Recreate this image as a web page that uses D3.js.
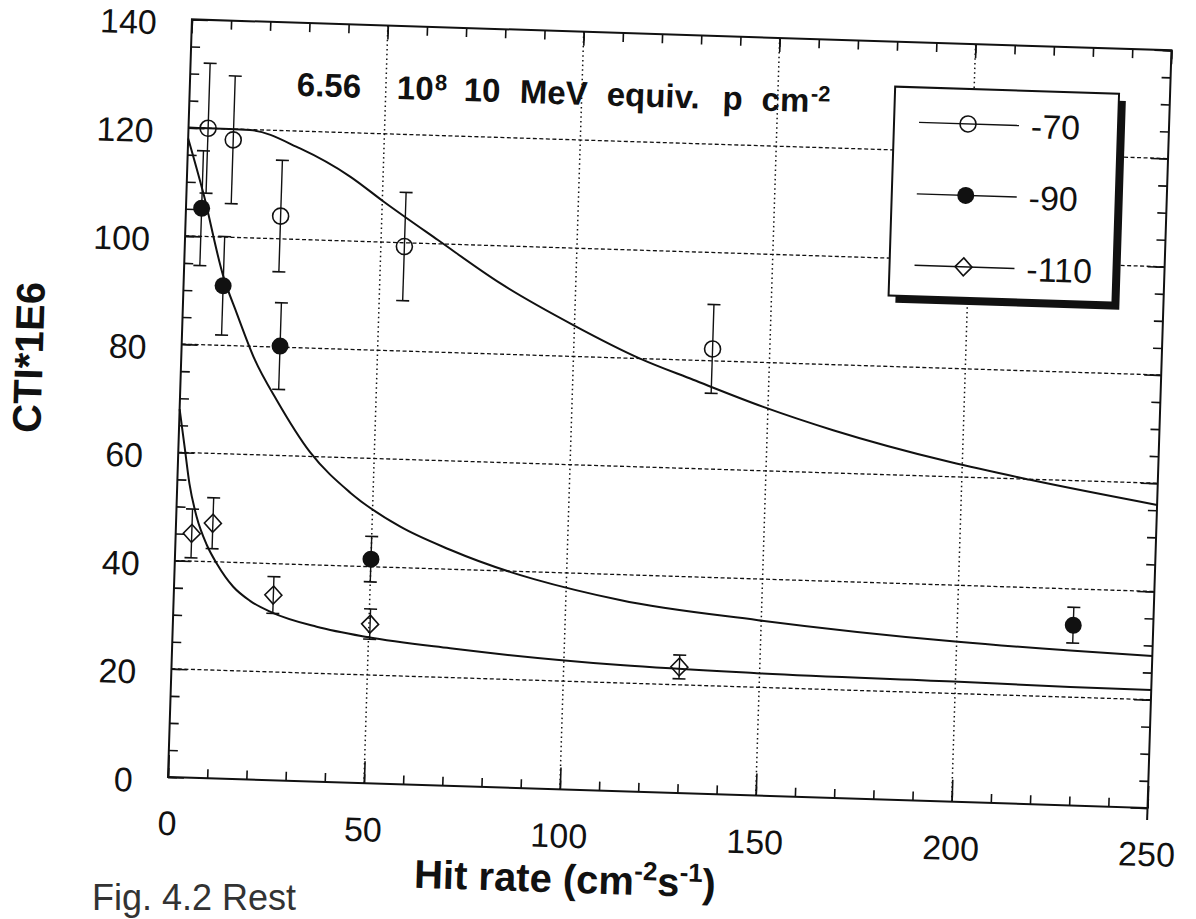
<!DOCTYPE html>
<html><head><meta charset="utf-8">
<script src="https://cdn.jsdelivr.net/npm/d3@7"></script>
<style>body{margin:0;background:#fff}svg{display:block}</style>
</head><body>
<svg id="c" width="1196" height="919"></svg>
<script>
// ---------- data ----------
const seriesNames = ["-70", "-90", "-110"];
const x70 = [5.0, 11.5, 24.2, 56.0, 135.4];
const y70 = [120.0, 118.0, 104.2, 99.3, 82.2];
const e70 = [12.0, 11.8, 10.3, 10.0, 8.2];
const x90 = [4.0, 10.1, 25.1, 50.0, 229.6];
const y90 = [105.2, 91.0, 80.2, 41.4, 33.3];
const e90 = [10.6, 9.1, 8.0, 4.2, 3.3];
const x110 = [4.1, 9.4, 25.4, 50.3, 129.5];
const y110 = [45.1, 47.1, 34.2, 29.4, 23.3];
const e110 = [4.5, 4.7, 3.4, 2.8, 2.2];
// fitted curves
const fit70 = [[0,120],[5,120],[15.7,119.9],[28.6,116.8],[41.6,111.9],[50.3,107.5],[64.5,100.7],[80.7,93.1],[99.7,85.8],[117,80.0],[130.7,76.4],[148.8,71.8],[166.8,67.9],[196.9,62.7],[217.4,59.9],[250,56.0]];
const fit90 = [[0,118],[4.3,108],[10.1,92.7],[13.8,86],[18.8,77.5],[24.7,70.2],[33.6,60.8],[44.1,53.6],[57.1,47.6],[70.1,43.6],[113.8,35.3],[149.2,32.4],[199.6,29.6],[229,28.6],[250,28.1]];
const fit110 = [[0,68],[1.7,60.5],[3.1,54.3],[5.2,48.2],[8.0,43.1],[10.7,39.7],[15.1,35.5],[19.5,33.0],[25.1,31.0],[36.7,28.6],[49.6,27.0],[70.9,25.4],[114.4,23.3],[149.3,22.6],[199.5,22.2],[229.3,21.9],[250,21.8]];
const xTicks = [0, 50, 100, 150, 200, 250];
const yTicks = [0, 20, 40, 60, 80, 100, 120, 140];
const xMinor = d3.range(0, 251, 10);
const yMinor = d3.range(0, 141, 5);
const xGrid = [50, 100, 150, 200];
const yGrid = [20, 40, 60, 80, 100, 120];

// ---------- layout ----------
const FONT = "'Liberation Sans', Arial, Helvetica, sans-serif";
const W = 980, H = 758, INK = "#111";
const svg = d3.select("#c");
const root = svg.append("g").attr("transform", "rotate(1.81,168,777) translate(168,19)");
const x = d3.scaleLinear().domain([0, 250]).range([0, W]);
const y = d3.scaleLinear().domain([0, 140]).range([H, 0]);

// grid
root.append("g").selectAll("line").data(xGrid).join("line")
  .attr("x1", d => x(d)).attr("x2", d => x(d)).attr("y1", 0).attr("y2", H)
  .attr("stroke", INK).attr("stroke-width", 1.5).attr("stroke-dasharray", "1.5,3.2");
root.append("g").selectAll("line").data(yGrid).join("line")
  .attr("x1", 0).attr("x2", W).attr("y1", d => y(d)).attr("y2", d => y(d))
  .attr("stroke", INK).attr("stroke-width", 1.3).attr("stroke-dasharray", "4,2.5");

// axes
function styleAxis(g) {
  g.select(".domain").remove();
  g.selectAll("line").attr("stroke", INK).attr("stroke-width", 1.6);
  g.selectAll("text").attr("font-family", FONT).attr("font-size", 34).attr("fill", INK);
}
root.append("g").attr("transform", `translate(0,${H})`)
  .call(d3.axisBottom(x).tickValues(xMinor).tickFormat("").tickSizeInner(-9).tickSizeOuter(0)).call(styleAxis);
root.append("g").attr("transform", `translate(0,${H})`)
  .call(d3.axisBottom(x).tickValues(xTicks).tickSizeInner(-22).tickSizeOuter(0).tickPadding(34)).call(styleAxis);
root.append("g")
  .call(d3.axisTop(x).tickValues(xMinor).tickFormat("").tickSizeInner(-9).tickSizeOuter(0)).call(styleAxis);
root.append("g")
  .call(d3.axisTop(x).tickValues(xTicks).tickFormat("").tickSizeInner(-14).tickSizeOuter(0)).call(styleAxis);
root.append("g")
  .call(d3.axisLeft(y).tickValues(yMinor).tickFormat("").tickSizeInner(-9).tickSizeOuter(0)).call(styleAxis);
root.append("g")
  .call(d3.axisLeft(y).tickValues(yTicks).tickSizeInner(-16).tickSizeOuter(0).tickPadding(35)).call(styleAxis)
  .call(g => g.selectAll("text").attr("dy", "0.45em"));
root.append("g").attr("transform", `translate(${W},0)`)
  .call(d3.axisRight(y).tickValues(yMinor).tickFormat("").tickSizeInner(-9).tickSizeOuter(0)).call(styleAxis);
root.append("g").attr("transform", `translate(${W},0)`)
  .call(d3.axisRight(y).tickValues(yTicks).tickFormat("").tickSizeInner(-17).tickSizeOuter(0)).call(styleAxis);

// frame
root.append("rect").attr("x", 0).attr("y", 0).attr("width", W).attr("height", H)
  .attr("fill", "none").attr("stroke", INK).attr("stroke-width", 2);
root.append("line").attr("x1", W).attr("x2", W).attr("y1", H).attr("y2", H + 12)
  .attr("stroke", INK).attr("stroke-width", 2);

// fitted curves
const line = d3.line().x(d => x(d[0])).y(d => y(d[1])).curve(d3.curveMonotoneX);
[fit70, fit90, fit110].forEach(f => {
  root.append("path").attr("d", line(f)).attr("fill", "none")
    .attr("stroke", INK).attr("stroke-width", 2);
});

// markers
const diamond = "M0,-9L8.5,0L0,9L-8.5,0Z";
function drawMarker(g, kind) {
  if (kind === 0) g.append("circle").attr("r", 8).attr("fill", "none").attr("stroke", INK).attr("stroke-width", 1.6);
  else if (kind === 1) g.append("circle").attr("r", 8.5).attr("fill", INK);
  else g.append("path").attr("d", diamond).attr("fill", "none").attr("stroke", INK).attr("stroke-width", 1.6);
}
const sets = [[x70, y70, e70], [x90, y90, e90], [x110, y110, e110]];
sets.forEach(([xs, ys, es], k) => {
  const pts = xs.map((v, i) => ({ x: v, y: ys[i], e: es[i] }));
  const g = root.append("g");
  const eb = g.selectAll("g.eb").data(pts).join("g").attr("class", "eb");
  eb.append("line").attr("x1", d => x(d.x)).attr("x2", d => x(d.x))
    .attr("y1", d => y(d.y + d.e)).attr("y2", d => y(d.y - d.e))
    .attr("stroke", INK).attr("stroke-width", 1.4);
  eb.append("line").attr("x1", d => x(d.x) - 6.5).attr("x2", d => x(d.x) + 6.5)
    .attr("y1", d => y(d.y + d.e)).attr("y2", d => y(d.y + d.e)).attr("stroke", INK).attr("stroke-width", 1.6);
  eb.append("line").attr("x1", d => x(d.x) - 6.5).attr("x2", d => x(d.x) + 6.5)
    .attr("y1", d => y(d.y - d.e)).attr("y2", d => y(d.y - d.e)).attr("stroke", INK).attr("stroke-width", 1.6);
  g.selectAll("g.mk").data(pts).join("g").attr("class", "mk")
    .attr("transform", d => `translate(${x(d.x)},${y(d.y)})`)
    .each(function () { drawMarker(d3.select(this), k); });
});

// legend
const lg = root.append("g").attr("transform", "translate(705,45)");
lg.append("rect").attr("x", 7).attr("y", 7).attr("width", 224).attr("height", 209).attr("fill", INK);
lg.append("rect").attr("x", 0).attr("y", 0).attr("width", 224).attr("height", 209)
  .attr("fill", "#fff").attr("stroke", INK).attr("stroke-width", 2);
seriesNames.forEach((name, i) => {
  const ry = 35 + i * 71.5;
  lg.append("line").attr("x1", 25).attr("x2", 125).attr("y1", ry).attr("y2", ry)
    .attr("stroke", INK).attr("stroke-width", 1.4);
  drawMarker(lg.append("g").attr("transform", `translate(74,${ry})`), i);
  lg.append("text").attr("x", 137).attr("y", ry).attr("dy", "0.36em")
    .attr("font-family", FONT).attr("font-size", 34).attr("fill", INK).text(name);
});

// annotation title
const t = root.append("text").attr("font-family", FONT).attr("font-weight", "bold")
  .attr("font-size", 33).attr("fill", INK);
const base = 73;
[["6.56", 107, base, 33], ["10", 207, base, 33], ["8", 245, base - 10, 22],
 ["10", 274, base, 33], ["MeV", 330, base, 33], ["equiv.", 417, base, 33],
 ["p", 533, base, 33], ["cm", 572, base, 33], ["-2", 621, base - 11, 22]]
  .forEach(([s, px, py, fs]) => t.append("tspan").attr("x", px).attr("y", py).attr("font-size", fs).text(s));

// axis titles
root.append("text").attr("transform", "translate(-153,343) rotate(-90)")
  .attr("text-anchor", "middle").attr("dy", "0.36em")
  .attr("font-family", FONT).attr("font-weight", "bold").attr("font-size", 40).attr("fill", INK)
  .text("CTI*1E6");
const xt = root.append("text").attr("x", 400).attr("y", 861).attr("text-anchor", "middle")
  .attr("font-family", FONT).attr("font-weight", "bold").attr("font-size", 40).attr("fill", INK);
xt.append("tspan").text("Hit rate  (cm");
xt.append("tspan").attr("dy", -15).attr("font-size", 26).text("-2");
xt.append("tspan").attr("dy", 15).text("s");
xt.append("tspan").attr("dy", -15).attr("font-size", 26).text("-1");
xt.append("tspan").attr("dy", 15).text(")");

// figure caption at the bottom edge of the scan
svg.append("text").attr("x", 92).attr("y", 910)
  .attr("font-family", FONT).attr("font-size", 36).attr("fill", "#333")
  .text("Fig. 4.2 Rest");
</script>
</body></html>
